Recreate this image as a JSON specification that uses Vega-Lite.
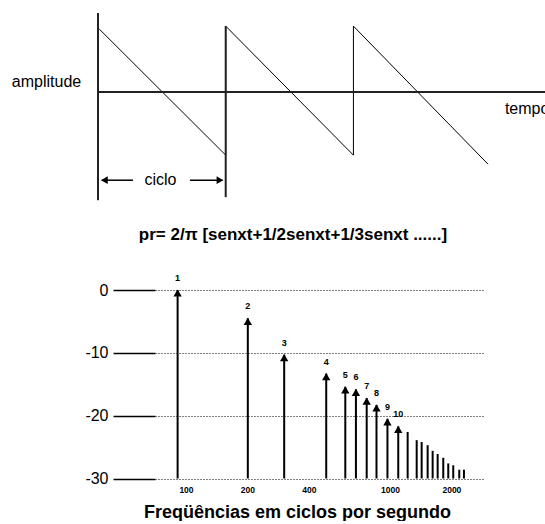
{
  "$schema": "https://vega.github.io/schema/vega-lite/v6.json",
  "padding": 0,
  "background": "white",
  "spacing": 16,
  "config": {"view": {"stroke": null}, "font": "Liberation Sans"},
  "vconcat": [
    {
      "width": 390,
      "height": 210,
      "layer": [
        {
          "data": {"values": [
            {"i": 1, "t": 0.01, "a": 0.984},
            {"i": 2, "t": 1.0, "a": -0.984},
            {"i": 3, "t": 1.0, "a": 1.03},
            {"i": 4, "t": 2.0, "a": -0.984},
            {"i": 5, "t": 2.0, "a": 1.03},
            {"i": 6, "t": 3.054, "a": -1.125}
          ]},
          "mark": {"type": "line", "color": "black", "strokeWidth": 1},
          "encoding": {
            "x": {"field": "t", "type": "quantitative", "scale": {"domain": [0.4464, 3.5], "nice": false, "zero": false}, "axis": null},
            "y": {"field": "a", "type": "quantitative", "scale": {"domain": [-1.84, 1.4375], "nice": false, "zero": false}, "axis": null},
            "order": {"field": "i"}
          }
        },
        {
          "data": {"values": [
            {"x1": 0, "x2": 0, "y1": -1.6875, "y2": 1.234},
            {"x1": 1.0, "x2": 1.0, "y1": -1.64, "y2": 1.03},
            {"x1": 0, "x2": 3.5, "y1": 0, "y2": 0}
          ]},
          "mark": {"type": "rule", "color": "#222222", "strokeWidth": 2},
          "encoding": {
            "x": {"field": "x1", "type": "quantitative", "axis": null},
            "x2": {"field": "x2"},
            "y": {"field": "y1", "type": "quantitative", "axis": null},
            "y2": {"field": "y2"}
          }
        },
        {
          "data": {"values": [
            {"x1": 0.03, "x2": 0.274, "y1": -1.375, "y2": -1.375},
            {"x1": 0.72, "x2": 0.975, "y1": -1.375, "y2": -1.375}
          ]},
          "mark": {"type": "rule", "color": "black", "strokeWidth": 1.5},
          "encoding": {
            "x": {"field": "x1", "type": "quantitative", "axis": null},
            "x2": {"field": "x2"},
            "y": {"field": "y1", "type": "quantitative", "axis": null},
            "y2": {"field": "y2"}
          }
        },
        {
          "data": {"values": [{"t": 0.05, "a": -1.375}]},
          "mark": {"type": "point", "shape": "triangle-left", "filled": true, "color": "black", "opacity": 1, "size": 60},
          "encoding": {
            "x": {"field": "t", "type": "quantitative", "axis": null},
            "y": {"field": "a", "type": "quantitative", "axis": null}
          }
        },
        {
          "data": {"values": [{"t": 0.955, "a": -1.375}]},
          "mark": {"type": "point", "shape": "triangle-right", "filled": true, "color": "black", "opacity": 1, "size": 60},
          "encoding": {
            "x": {"field": "t", "type": "quantitative", "axis": null},
            "y": {"field": "a", "type": "quantitative", "axis": null}
          }
        },
        {
          "data": {"values": [
            {"t": -0.403, "a": 0.156, "label": "amplitude"},
            {"t": 0.489, "a": -1.375, "label": "ciclo"}
          ]},
          "mark": {"type": "text", "fontSize": 16, "color": "black", "align": "center", "baseline": "middle"},
          "encoding": {
            "x": {"field": "t", "type": "quantitative", "axis": null},
            "y": {"field": "a", "type": "quantitative", "axis": null},
            "text": {"field": "label"}
          }
        },
        {
          "data": {"values": [
            {"t": 3.36, "a": -0.266, "label": "tempo"}
          ]},
          "mark": {"type": "text", "fontSize": 16, "color": "black", "align": "center", "baseline": "middle", "clip": true},
          "encoding": {
            "x": {"field": "t", "type": "quantitative", "axis": null},
            "y": {"field": "a", "type": "quantitative", "axis": null},
            "text": {"field": "label"}
          }
        }
      ]
    },
    {
      "width": 328,
      "height": 188.5,
      "title": {
        "text": "pr= 2/π [senxt+1/2senxt+1/3senxt ......]",
        "fontSize": 17,
        "fontWeight": "bold",
        "color": "black",
        "frame": "group",
        "anchor": "middle",
        "dx": -26,
        "offset": 30
      },
      "data": {"values": [
        {"n": "1", "f": 91, "db": 0},
        {"n": "2", "f": 201, "db": -4.5},
        {"n": "3", "f": 303, "db": -10.3},
        {"n": "4", "f": 487, "db": -13.3},
        {"n": "5", "f": 604, "db": -15.4},
        {"n": "6", "f": 681, "db": -15.8},
        {"n": "7", "f": 769, "db": -17.2},
        {"n": "8", "f": 859, "db": -18.3},
        {"n": "9", "f": 972, "db": -20.5},
        {"n": "10", "f": 1098, "db": -21.7},
        {"f": 1221, "db": -22.6},
        {"f": 1352, "db": -23.9},
        {"f": 1430, "db": -24.2},
        {"f": 1530, "db": -24.7},
        {"f": 1619, "db": -25.6},
        {"f": 1713, "db": -26.1},
        {"f": 1825, "db": -26.7},
        {"f": 1931, "db": -27.6},
        {"f": 2043, "db": -27.9},
        {"f": 2186, "db": -28.6},
        {"f": 2305, "db": -28.6}
      ]},
      "layer": [
        {
          "mark": {"type": "rule", "color": "black", "strokeWidth": 2},
          "encoding": {
            "x": {
              "field": "f", "type": "quantitative",
              "scale": {"type": "log", "domain": [70.5, 2858], "nice": false},
              "axis": {
                "values": [100, 200, 400, 1000, 2000],
                "format": "d",
                "title": "Freqüências em ciclos por segundo",
                "titleFontSize": 18,
                "titleFontWeight": "bold",
                "titleColor": "black",
                "titlePadding": 9,
                "titleX": 142,
                "titleAlign": "center",
                "domain": false,
                "ticks": false,
                "grid": false,
                "labelFontSize": 8.5,
                "labelFontWeight": "bold",
                "labelColor": "black",
                "labelPadding": 7,
                "labelFlush": false,
                "labelOverlap": false
              }
            },
            "y": {
              "field": "db", "type": "quantitative",
              "scale": {"domain": [-30, 0], "nice": false, "zero": false},
              "axis": {
                "values": [0, -10, -20, -30],
                "labelExpr": "datum.value == 0 ? '0' : '-' + abs(datum.value)",
                "title": null,
                "domain": false,
                "ticks": true,
                "tickSize": 42,
                "tickColor": "black",
                "tickWidth": 1.5,
                "labelFontSize": 16,
                "labelColor": "black",
                "labelPadding": 5,
                "labelFlush": false,
                "labelOverlap": false,
                "grid": true,
                "gridColor": "black",
                "gridDash": [1, 2],
                "gridWidth": 1,
                "gridOpacity": 1,
                "minExtent": 155,
                "maxExtent": 155
              }
            },
            "y2": {"datum": -30}
          }
        },
        {
          "transform": [{"filter": "datum.n != null"}],
          "mark": {"type": "point", "shape": "triangle-up", "filled": true, "color": "black", "opacity": 1, "size": 70, "yOffset": 3},
          "encoding": {
            "x": {"field": "f", "type": "quantitative"},
            "y": {"field": "db", "type": "quantitative"}
          }
        },
        {
          "transform": [{"filter": "datum.n != null"}],
          "mark": {"type": "text", "fontWeight": "bold", "fontSize": 9, "color": "black", "baseline": "bottom", "dy": -7},
          "encoding": {
            "x": {"field": "f", "type": "quantitative"},
            "y": {"field": "db", "type": "quantitative"},
            "text": {"field": "n"}
          }
        }
      ]
    }
  ]
}
